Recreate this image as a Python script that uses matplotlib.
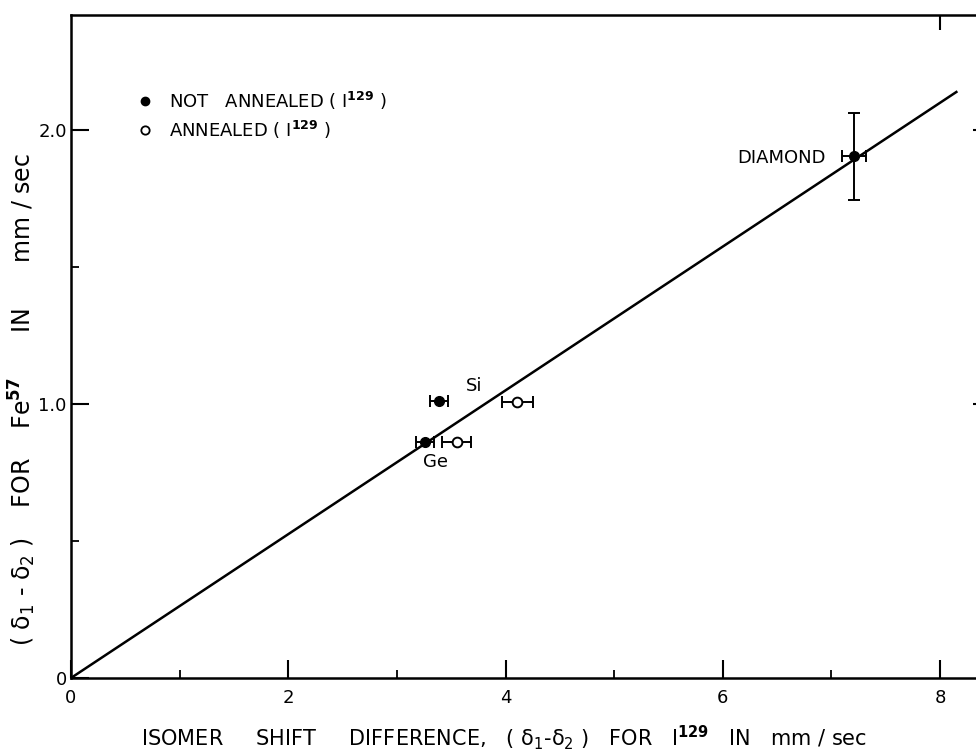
import matplotlib
matplotlib.use("Agg")
import matplotlib.pyplot as plt
from matplotlib.ticker import MultipleLocator, FixedLocator

# isomer shift differences, I129 (x) against Fe57 (y), mm/sec
labels = ["Si", "Ge", "DIAMOND"]
not_annealed_x = [3.39, 3.26, 7.21]
not_annealed_y = [1.01, 0.862, 1.905]
not_annealed_xerr = [0.085, 0.08, 0.11]
not_annealed_yerr = [0.0, 0.0, 0.16]

annealed_x = [4.11, 3.55]
annealed_y = [1.007, 0.862]
annealed_xerr = [0.14, 0.135]

fit_slope = 0.2626
fit_x = [0.0, 8.15]

plt.rcParams['font.family'] = ['DejaVu Sans']
plt.rcParams['mathtext.fontset'] = 'dejavusans'

fig = plt.figure(figsize=(9.76, 7.53), dpi=100)
ax = fig.add_axes([0.0727, 0.0996, 0.935, 0.880])
ax.set_xlim(0, 8.4)
ax.set_ylim(0, 2.42)

# fitted straight line through the origin
ax.plot(fit_x, [fit_slope * v for v in fit_x], color='black', lw=1.8, zorder=2)

ax.errorbar(not_annealed_x, not_annealed_y, xerr=not_annealed_xerr,
            yerr=not_annealed_yerr, fmt='o', color='black', ms=7,
            ecolor='black', elinewidth=1.4, capsize=4, capthick=1.4, zorder=3)
ax.errorbar(annealed_x, annealed_y, xerr=annealed_xerr, fmt='o',
            mfc='white', mec='black', mew=1.4, color='black', ms=7,
            ecolor='black', elinewidth=1.4, capsize=4, capthick=1.4, zorder=3)

fs = 13
ax.text(3.71, 1.066, labels[0], fontsize=fs, ha='center', va='center')
ax.text(3.36, 0.79, labels[1], fontsize=fs, ha='center', va='center')
ax.text(6.95, 1.90, labels[2], fontsize=fs, ha='right', va='center')

# key in the upper left corner
ax.plot([0.68], [2.106], 'o', color='black', ms=6)
ax.plot([0.68], [2.0], 'o', mfc='white', mec='black', mew=1.3, ms=6)
ax.text(0.9, 2.106, r'NOT   ANNEALED ( I$^{\mathbf{129}}$ )', fontsize=fs,
        ha='left', va='center')
ax.text(0.9, 2.0, r'ANNEALED ( I$^{\mathbf{129}}$ )', fontsize=fs,
        ha='left', va='center')

ax.xaxis.set_major_locator(MultipleLocator(2))
ax.xaxis.set_minor_locator(MultipleLocator(1))
ax.yaxis.set_major_locator(MultipleLocator(1))
ax.yaxis.set_minor_locator(MultipleLocator(0.5))
ax.xaxis.set_major_formatter(plt.FuncFormatter(lambda v, p: '%d' % v))
ax.yaxis.set_major_formatter(plt.FuncFormatter(lambda v, p: '0' if v == 0 else '%.1f' % v))

ax.tick_params(which='major', direction='in', length=13, width=1.5,
               labelsize=fs, top=False, right=False)
ax.tick_params(which='minor', direction='in', length=6, width=1.3,
               top=False, right=False)
ax.tick_params(axis='x', pad=8)
ax.tick_params(axis='y', pad=3)

# short ticks on the top and right edges
top = ax.secondary_xaxis('top')
top.xaxis.set_major_locator(FixedLocator([8]))
top.tick_params(direction='in', length=11, width=1.5, labeltop=False)
top.spines['top'].set_visible(False)
right = ax.secondary_yaxis('right')
right.yaxis.set_major_locator(FixedLocator([1, 2]))
right.tick_params(direction='in', length=8, width=1.5, labelright=False)
right.spines['right'].set_visible(False)

for s in ax.spines.values():
    s.set_linewidth(1.8)

ax.set_xlabel(r'ISOMER     SHIFT     DIFFERENCE,   ( δ$_1$-δ$_2$ )   FOR   I$^{\mathbf{129}}$   IN   mm / sec',
              fontsize=15)
ax.xaxis.set_label_coords(0.475, -0.068)
ax.set_ylabel(r'( δ$_1$ - δ$_2$ )    FOR    Fe$^{\mathbf{57}}$      IN      mm / sec', fontsize=17)
ax.yaxis.set_label_coords(-0.036, 0.42)

fig.savefig('out.png', dpi=100)
